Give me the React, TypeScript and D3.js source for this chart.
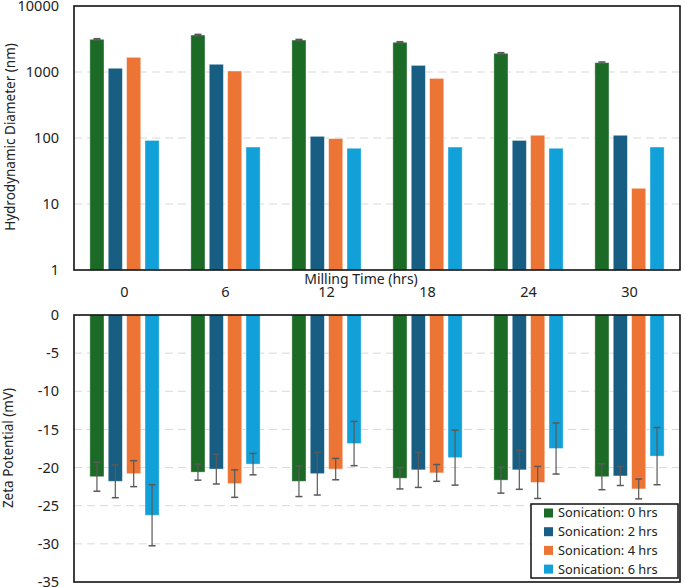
import React, { useEffect, useRef } from 'react';
import * as d3 from 'd3';

const millingTimes = ['0', '6', '12', '18', '24', '30'];
const seriesNames = ['Sonication: 0 hrs', 'Sonication: 2 hrs', 'Sonication: 4 hrs', 'Sonication: 6 hrs'];
const seriesColors = ['#1b6b27', '#175e82', '#ec7434', '#12a0d8'];

// hydrodynamic diameter (nm), one array per sonication time
const diam0 = [3130, 3630, 3050, 2820, 1920, 1385];
const diam2 = [1140, 1310, 106, 1260, 92, 110];
const diam4 = [1670, 1035, 98, 800, 110, 17.3];
const diam6 = [92, 73, 70, 73, 70, 73];
const diamErr0 = [70, 90, 70, 60, 45, 35];

// zeta potential (mV) and std dev
const zeta0 = [-21.2, -20.6, -21.8, -21.4, -21.65, -21.2];
const zeta2 = [-21.8, -20.2, -20.8, -20.3, -20.3, -21.1];
const zeta4 = [-20.8, -22.1, -20.2, -20.7, -21.95, -22.8];
const zeta6 = [-26.25, -19.55, -16.85, -18.7, -17.5, -18.5];
const zetaErr0 = [1.9, 1.05, 2.0, 1.4, 1.7, 1.7];
const zetaErr2 = [2.15, 1.95, 2.8, 2.3, 2.55, 1.25];
const zetaErr4 = [1.7, 1.8, 1.4, 1.1, 2.1, 1.3];
const zetaErr6 = [4.0, 1.4, 2.9, 3.6, 3.35, 3.75];

const diamTicks = [1, 10, 100, 1000, 10000];
const zetaTicks = [0, -5, -10, -15, -20, -25, -30, -35];

const FONT = '"Noto Sans", sans-serif';

const App: React.FC = () => {
  const ref = useRef<SVGSVGElement>(null);

  useEffect(() => {
    if (!ref.current) return;
    const svg = d3.select(ref.current);
    svg.selectAll('*').remove();

    const left = 74, right = 680;
    const x0 = d3.scaleBand<string>().domain(millingTimes).range([left, right]).paddingInner(0.314).paddingOuter(0.157);
    const x1 = d3.scaleBand<number>().domain([0, 1, 2, 3]).range([0, x0.bandwidth()]).paddingInner(0.23);

    const diam = [diam0, diam2, diam4, diam6];
    const zeta = [zeta0, zeta2, zeta4, zeta6];
    const zetaErr = [zetaErr0, zetaErr2, zetaErr4, zetaErr6];

    // ---------- top panel ----------
    const yTop = d3.scaleLog().domain([1, 10000]).range([270, 6]);
    const top = svg.append('g');

    top.selectAll('line.grid')
      .data(diamTicks.slice(1, -1))
      .join('line')
      .attr('x1', left).attr('x2', right)
      .attr('y1', d => yTop(d)).attr('y2', d => yTop(d))
      .attr('stroke', '#d9d9d9').attr('stroke-width', 1).attr('stroke-dasharray', '8,5');

    diam.forEach((vals, s) => {
      top.selectAll(`rect.d${s}`)
        .data(vals)
        .join('rect')
        .attr('x', (d, i) => x0(millingTimes[i])! + x1(s)!)
        .attr('width', x1.bandwidth())
        .attr('y', d => yTop(d))
        .attr('height', d => yTop(1) - yTop(d))
        .attr('fill', seriesColors[s])
        .attr('stroke', '#ffffff').attr('stroke-opacity', 0.5).attr('stroke-width', 0.8);
    });

    // small error bars on the 0 hr series
    const cap = 3.5;
    diamErr0.forEach((e, i) => {
      const cx = x0(millingTimes[i])! + x1(0)! + x1.bandwidth() / 2;
      const y1 = yTop(diam0[i] + e), y2 = yTop(diam0[i] - e);
      top.append('line').attr('x1', cx).attr('x2', cx).attr('y1', y1).attr('y2', y2).attr('stroke', '#595959').attr('stroke-width', 1.2);
      [y1, y2].forEach(y => top.append('line').attr('x1', cx - cap).attr('x2', cx + cap).attr('y1', y).attr('y2', y).attr('stroke', '#595959').attr('stroke-width', 1.5));
    });

    top.append('rect').attr('x', left).attr('y', 6).attr('width', right - left).attr('height', 264)
      .attr('fill', 'none').attr('stroke', '#111').attr('stroke-width', 1.6);

    top.selectAll('text.tick')
      .data(diamTicks)
      .join('text')
      .attr('x', 59).attr('y', d => yTop(d))
      .attr('dy', '0.35em')
      .attr('text-anchor', 'end')
      .attr('font-family', FONT).attr('font-size', 14.5).attr('fill', '#222')
      .text(d => String(d));

    top.append('text')
      .attr('transform', 'translate(15,137) rotate(-90)')
      .attr('text-anchor', 'middle')
      .attr('font-family', FONT).attr('font-size', 13.5).attr('fill', '#222')
      .text('Hydrodynamic Diameter (nm)');

    top.append('text')
      .attr('x', 361).attr('y', 284)
      .attr('text-anchor', 'middle')
      .attr('font-family', FONT).attr('font-size', 14).attr('fill', '#222')
      .text('Milling Time (hrs)');

    top.selectAll('text.cat')
      .data(millingTimes)
      .join('text')
      .attr('x', d => x0(d)! + x0.bandwidth() / 2)
      .attr('y', 297)
      .attr('text-anchor', 'middle')
      .attr('font-family', FONT).attr('font-size', 14.5).attr('fill', '#222')
      .text(d => d);

    // ---------- bottom panel ----------
    const yBot = d3.scaleLinear().domain([0, -35]).range([315, 582]);
    const bot = svg.append('g');

    bot.selectAll('line.grid')
      .data(zetaTicks.slice(1, -1))
      .join('line')
      .attr('x1', left).attr('x2', right)
      .attr('y1', d => yBot(d)).attr('y2', d => yBot(d))
      .attr('stroke', '#d9d9d9').attr('stroke-width', 1).attr('stroke-dasharray', '8,5');

    zeta.forEach((vals, s) => {
      bot.selectAll(`rect.z${s}`)
        .data(vals)
        .join('rect')
        .attr('x', (d, i) => x0(millingTimes[i])! + x1(s)!)
        .attr('width', x1.bandwidth())
        .attr('y', yBot(0))
        .attr('height', d => yBot(d) - yBot(0))
        .attr('fill', seriesColors[s])
        .attr('stroke', '#ffffff').attr('stroke-opacity', 0.5).attr('stroke-width', 0.8);
    });

    zeta.forEach((vals, s) => {
      vals.forEach((v, i) => {
        const e = zetaErr[s][i];
        const cx = x0(millingTimes[i])! + x1(s)! + x1.bandwidth() / 2;
        const y1 = yBot(v + e), y2 = yBot(v - e);
        bot.append('line').attr('x1', cx).attr('x2', cx).attr('y1', y1).attr('y2', y2).attr('stroke', '#595959').attr('stroke-width', 1.2);
        [y1, y2].forEach(y => bot.append('line').attr('x1', cx - cap).attr('x2', cx + cap).attr('y1', y).attr('y2', y).attr('stroke', '#595959').attr('stroke-width', 1.5));
      });
    });

    bot.append('rect').attr('x', left).attr('y', 315).attr('width', right - left).attr('height', 267)
      .attr('fill', 'none').attr('stroke', '#111').attr('stroke-width', 1.6);

    bot.selectAll('text.tick')
      .data(zetaTicks)
      .join('text')
      .attr('x', 59).attr('y', d => yBot(d))
      .attr('dy', '0.35em')
      .attr('text-anchor', 'end')
      .attr('font-family', FONT).attr('font-size', 14.5).attr('fill', '#222')
      .text(d => String(d));

    bot.append('text')
      .attr('transform', 'translate(13,448) rotate(-90)')
      .attr('text-anchor', 'middle')
      .attr('font-family', FONT).attr('font-size', 13.5).attr('fill', '#222')
      .text('Zeta Potential (mV)');

    // legend
    const lg = bot.append('g');
    lg.append('rect').attr('x', 531).attr('y', 504).attr('width', 147).attr('height', 74)
      .attr('fill', '#fff').attr('stroke', '#111').attr('stroke-width', 1.5);
    seriesNames.forEach((name, s) => {
      const yy = 513 + s * 18.7;
      lg.append('rect').attr('x', 544).attr('y', yy - 4.5).attr('width', 9).attr('height', 9).attr('fill', seriesColors[s]);
      lg.append('text').attr('x', 558).attr('y', yy).attr('dy', '0.35em')
        .attr('font-family', FONT).attr('font-size', 12.8).attr('fill', '#222')
        .text(name);
    });
  }, []);

  return (
    <svg ref={ref} width={685} height={587} style={{ position: 'absolute', left: 0, top: 0, background: '#fff' }} />
  );
};

export default App;
